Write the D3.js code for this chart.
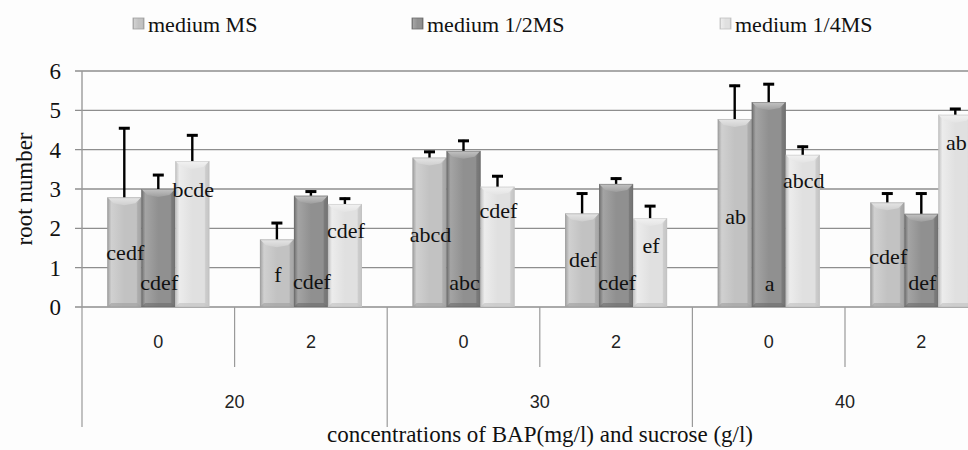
<!DOCTYPE html>
<html>
<head>
<meta charset="utf-8">
<script src="https://cdn.jsdelivr.net/npm/d3@7"></script>
<style>
  html, body { margin: 0; padding: 0; background: #fdfdfd; }
  svg { display: block; }
</style>
</head>
<body>
<svg id="chart" width="968" height="450"></svg>
<script>
// ---- data ----
const bapLabels = ["0", "2", "0", "2", "0", "2"];
const sucroseLabels = ["20", "30", "40"];
const seriesNames = ["medium MS", "medium 1/2MS", "medium 1/4MS"];
const yTicks = [0, 1, 2, 3, 4, 5, 6];

const msValues      = [2.79, 1.72, 3.80, 2.38, 4.78, 2.66];
const halfValues    = [3.00, 2.83, 3.97, 3.13, 5.21, 2.37];
const quarterValues = [3.71, 2.62, 3.06, 2.26, 3.87, 4.89];

const msErrors      = [1.78, 0.44, 0.17, 0.53, 0.87, 0.25];
const halfErrors    = [0.38, 0.13, 0.28, 0.16, 0.48, 0.54];
const quarterErrors = [0.68, 0.16, 0.29, 0.33, 0.23, 0.17];

const msLetters      = ["cedf", "f", "abcd", "def", "ab", "cdef"];
const halfLetters    = ["cdef", "cdef", "abc", "cdef", "a", "def"];
const quarterLetters = ["bcde", "cdef", "cdef", "ef", "abcd", "ab"];

// where each letter label sits, in value units
const msLetterAt      = [1.38, 0.81, 1.83, 1.20, 2.30, 1.28];
const halfLetterAt    = [0.62, 0.64, 0.60, 0.62, 0.58, 0.62];
const quarterLetterAt = [2.98, 1.94, 2.43, 1.56, 3.20, 4.16];

const yLabel = "root number";
const xLabel = "concentrations of BAP(mg/l) and sucrose (g/l)";

// ---- build ----
const valuesBySeries = [msValues, halfValues, quarterValues];
const errorsBySeries = [msErrors, halfErrors, quarterErrors];
const lettersBySeries = [msLetters, halfLetters, quarterLetters];
const letterAtBySeries = [msLetterAt, halfLetterAt, quarterLetterAt];

const svg = d3.select("#chart");
const pL = 82, pT = 71, pB = 307, pR = 82 + 6 * 152.6;
const serif = "'Liberation Serif','Times New Roman',serif";
const sans = "'Liberation Sans',Arial,sans-serif";

const subIdx = d3.range(bapLabels.length);
const x0 = d3.scaleBand().domain(subIdx).range([pL, pR]).paddingInner(0).paddingOuter(0);
const x1 = d3.scaleBand().domain(d3.range(seriesNames.length)).range([0, x0.bandwidth()]).paddingInner(0).paddingOuter(0.744);
const xg = d3.scaleBand().domain(d3.range(sucroseLabels.length)).range([pL, pR]).padding(0);
const y = d3.scaleLinear().domain([0, 6]).range([pB, pT]);

const palettes = [
  { dark: "#9e9e9e", light: "#d0d0d0", main: "#c2c2c2", top1: "#e6e6e6", top2: "#cfcfcf", rightc: "#a8a8a8" },
  { dark: "#6c6c6c", light: "#a4a4a4", main: "#909090", top1: "#c4c4c4", top2: "#9e9e9e", rightc: "#767676" },
  { dark: "#c0c0c0", light: "#ececec", main: "#e0e0e0", top1: "#f2f2f2", top2: "#e4e4e4", rightc: "#c8c8c8" }
];

const defs = svg.append("defs");
palettes.forEach((p, i) => {
  const g = defs.append("linearGradient").attr("id", "g" + i).attr("x1", 0).attr("x2", 1).attr("y1", 0).attr("y2", 0);
  g.append("stop").attr("offset", "0%").attr("stop-color", p.dark);
  g.append("stop").attr("offset", "12%").attr("stop-color", p.light);
  g.append("stop").attr("offset", "50%").attr("stop-color", p.main);
  g.append("stop").attr("offset", "85%").attr("stop-color", p.main);
  g.append("stop").attr("offset", "100%").attr("stop-color", p.dark);
  const t = defs.append("linearGradient").attr("id", "t" + i).attr("x1", 0).attr("x2", 0).attr("y1", 0).attr("y2", 1);
  t.append("stop").attr("offset", "0%").attr("stop-color", p.top1);
  t.append("stop").attr("offset", "100%").attr("stop-color", p.top2);
});

// gridlines
svg.append("g").selectAll("line").data(yTicks).join("line")
  .attr("x1", pL - 7).attr("x2", pR)
  .attr("y1", d => y(d)).attr("y2", d => y(d))
  .attr("stroke", "#8e8e8e").attr("stroke-width", 1.4);

// y axis line
svg.append("line").attr("x1", pL).attr("x2", pL).attr("y1", pT).attr("y2", pB)
  .attr("stroke", "#9a9a9a").attr("stroke-width", 1.4);

// y tick labels
svg.append("g").selectAll("text").data(yTicks).join("text")
  .attr("x", 61).attr("y", d => y(d)).attr("dy", "0.35em")
  .attr("text-anchor", "end").attr("font-family", serif).attr("font-size", 23)
  .attr("fill", "#111").text(d => d);

// category ticks: inner (between subgroups of a group), outer (group boundaries)
const innerTicks = subIdx.filter(i => i % 2 === 1).map(i => x0(i));
const outerTicks = d3.range(sucroseLabels.length + 1).map(i => i < sucroseLabels.length ? xg(i) : xg(i - 1) + xg.bandwidth());
svg.append("g").selectAll("line").data(innerTicks).join("line")
  .attr("x1", d => d).attr("x2", d => d).attr("y1", pB).attr("y2", 367)
  .attr("stroke", "#9a9a9a").attr("stroke-width", 1.2);
svg.append("g").selectAll("line").data(outerTicks).join("line")
  .attr("x1", d => d).attr("x2", d => d).attr("y1", pB).attr("y2", 427)
  .attr("stroke", "#9a9a9a").attr("stroke-width", 1.2);

svg.append("g").selectAll("text").data(subIdx).join("text")
  .attr("x", i => x0(i) + x0.bandwidth() / 2).attr("y", 342).attr("dy", "0.35em")
  .attr("text-anchor", "middle").attr("font-family", sans).attr("font-size", 18)
  .attr("fill", "#222").text(i => bapLabels[i]);
svg.append("g").selectAll("text").data(d3.range(sucroseLabels.length)).join("text")
  .attr("x", i => xg(i) + xg.bandwidth() / 2).attr("y", 402).attr("dy", "0.35em")
  .attr("text-anchor", "middle").attr("font-family", sans).attr("font-size", 18)
  .attr("fill", "#222").text(i => sucroseLabels[i]);

// bars
const bevel = 6;
const barsG = svg.append("g");
seriesNames.forEach((s, si) => {
  subIdx.forEach(i => {
    const v = valuesBySeries[si][i];
    const bx = x0(i) + x1(si), bw = x1.bandwidth();
    const by = y(v), bh = y(0) - y(v);
    const g = barsG.append("g");
    g.append("rect").attr("x", bx).attr("y", by).attr("width", bw).attr("height", bh)
      .attr("fill", `url(#g${si})`);
    g.append("path").attr("d", `M${bx},${by} L${bx + bw},${by} L${bx + bw - bevel},${by + bevel} L${bx + bw / 2},${by + bevel + 2} L${bx + bevel},${by + bevel} Z`)
      .attr("fill", `url(#t${si})`);
    g.append("path").attr("d", `M${bx + bw},${by} L${bx + bw},${by + bh} L${bx + bw - 4},${by + bh - 4} L${bx + bw - 4},${by + bevel} Z`)
      .attr("fill", palettes[si].rightc).attr("opacity", 0.7);
    g.append("path").attr("d", `M${bx},${by + bh} L${bx + bw},${by + bh} L${bx + bw - 4},${by + bh - 4} L${bx + 4},${by + bh - 4} Z`)
      .attr("fill", palettes[si].dark).attr("opacity", 0.6);
    g.append("rect").attr("x", bx + 0.5).attr("y", by + 0.5).attr("width", bw - 1).attr("height", bh - 1)
      .attr("fill", "none").attr("stroke", palettes[si].dark).attr("stroke-width", 0.8).attr("opacity", 0.6);
  });
});

// error bars
const errG = svg.append("g");
seriesNames.forEach((s, si) => {
  subIdx.forEach(i => {
    const v = valuesBySeries[si][i], e = errorsBySeries[si][i];
    const cx = x0(i) + x1(si) + x1.bandwidth() / 2;
    errG.append("line").attr("x1", cx).attr("x2", cx).attr("y1", y(v)).attr("y2", y(v + e))
      .attr("stroke", "#000").attr("stroke-width", 2.4);
    errG.append("line").attr("x1", cx - 5.5).attr("x2", cx + 5.5).attr("y1", y(v + e) + 1).attr("y2", y(v + e) + 1)
      .attr("stroke", "#000").attr("stroke-width", 3);
  });
});

// letter labels
const labG = svg.append("g");
seriesNames.forEach((s, si) => {
  subIdx.forEach(i => {
    const cx = x0(i) + x1(si) + x1.bandwidth() / 2;
    labG.append("text").attr("x", cx + 1).attr("y", y(letterAtBySeries[si][i])).attr("dy", "0.32em")
      .attr("text-anchor", "middle").attr("font-family", serif).attr("font-size", 22)
      .attr("fill", "#111").text(lettersBySeries[si][i]);
  });
});

// axis titles
svg.append("text").attr("transform", `translate(24,${(pT + pB) / 2}) rotate(-90)`)
  .attr("text-anchor", "middle").attr("dy", "0.35em").attr("font-family", serif).attr("font-size", 23)
  .attr("fill", "#111").text(yLabel);
svg.append("text").attr("x", 540).attr("y", 442).attr("text-anchor", "middle")
  .attr("font-family", serif).attr("font-size", 23).attr("fill", "#111").text(xLabel);

// legend
const legendX = [133, 412, 720];
const leg = svg.append("g").selectAll("g").data(seriesNames).join("g")
  .attr("transform", (d, i) => `translate(${legendX[i]},0)`);
leg.append("rect").attr("x", 0).attr("y", 18).attr("width", 11).attr("height", 11)
  .attr("fill", (d, i) => `url(#g${i})`).attr("stroke", (d, i) => palettes[i].dark).attr("stroke-width", 0.8);
leg.append("text").attr("x", 15).attr("y", 32).attr("font-family", serif).attr("font-size", 22)
  .attr("fill", "#111").text(d => d);
</script>
</body>
</html>
